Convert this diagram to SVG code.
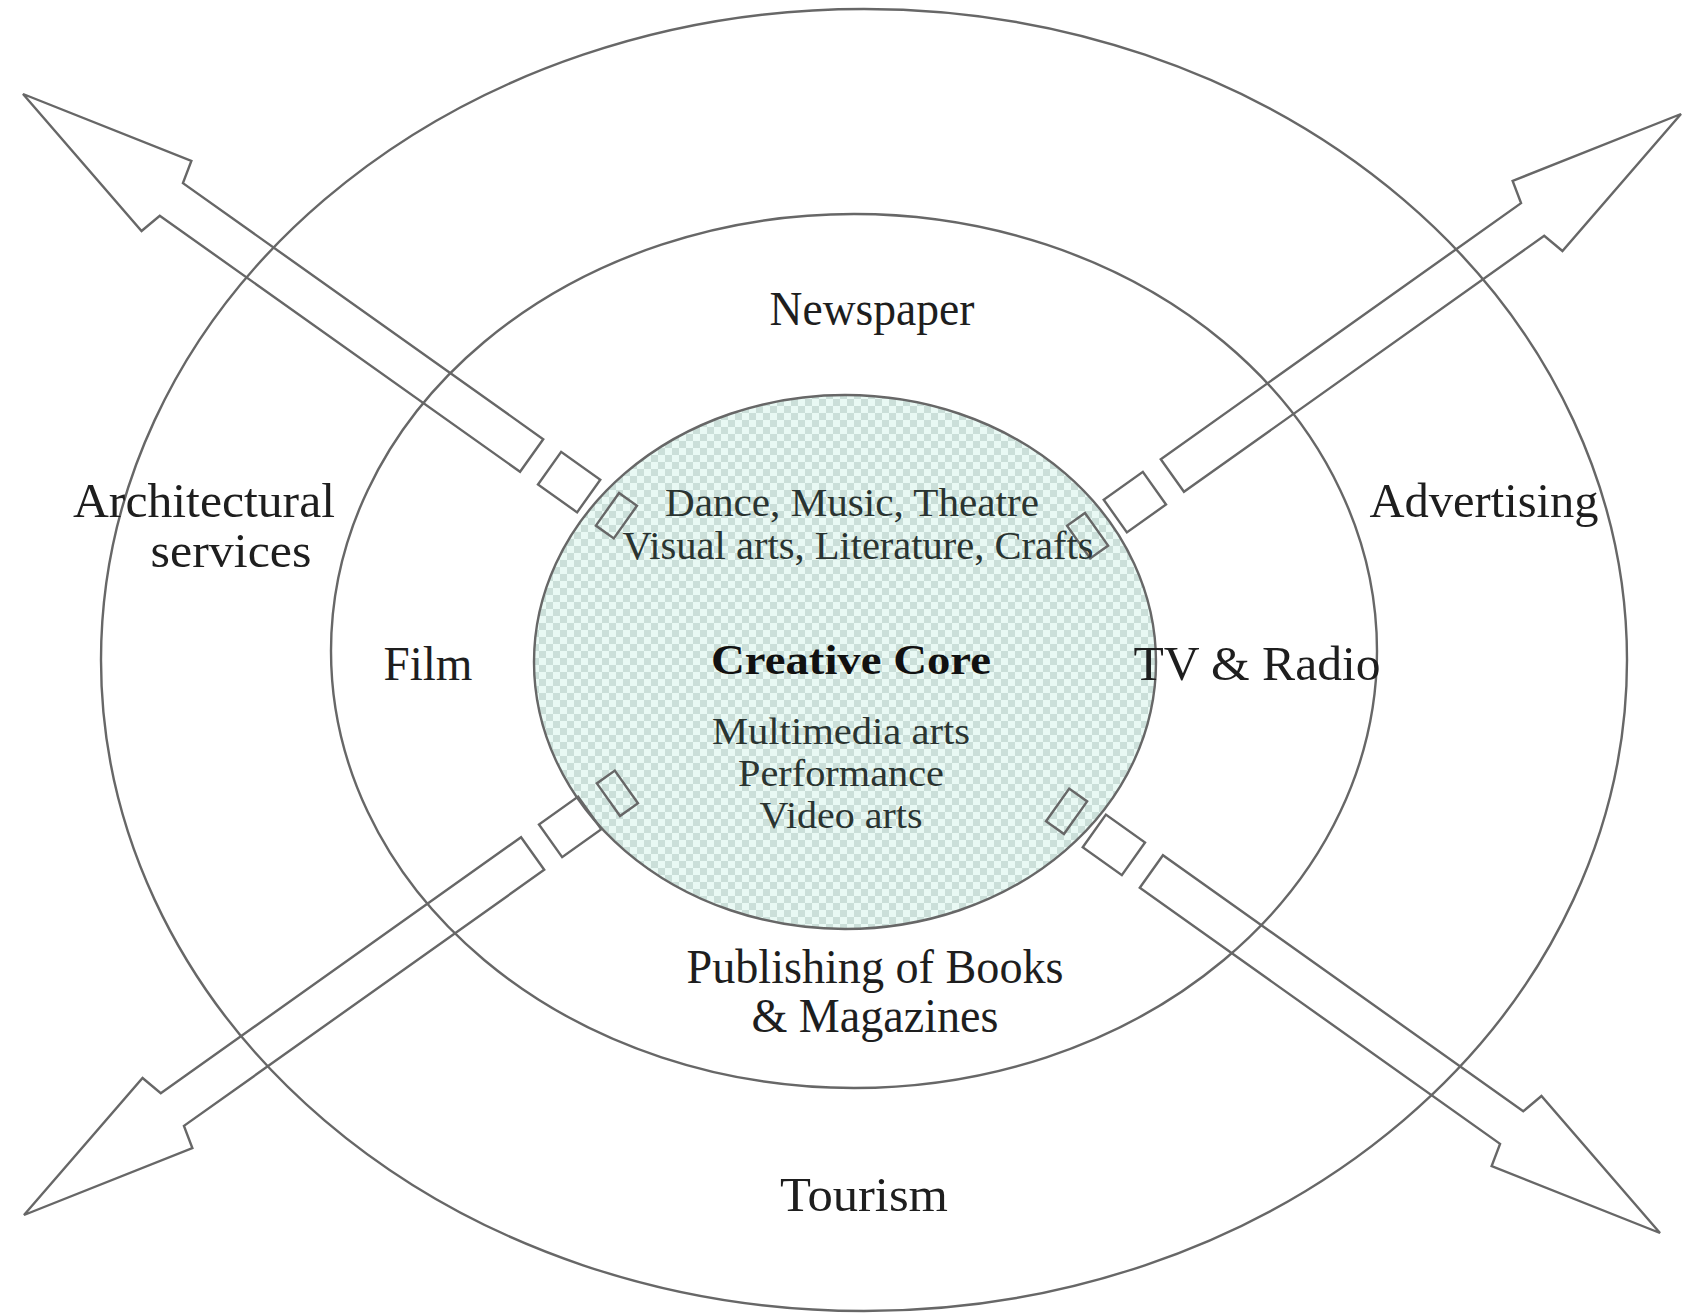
<svg xmlns="http://www.w3.org/2000/svg" width="1698" height="1313" viewBox="0 0 1698 1313">
  <style>
    .ring { fill: none; stroke: #676767; stroke-width: 2.4; }
    .arrow { fill: none; stroke: #676767; stroke-width: 2.4; stroke-linejoin: miter; }
    .lbl { font-family: "Liberation Serif", "Times New Roman", serif; fill: #1e1e1e; text-anchor: middle; }
    .outer { font-size: 48px; }
    .inner { font-size: 40px; fill: #2a3431; }
    .media { font-size: 37px; fill: #2a3431; }
    .core { font-size: 43px; font-weight: bold; fill: #111; }
  </style>
  <defs>
    <pattern id="chk" width="14" height="14" patternUnits="userSpaceOnUse">
      <rect width="14" height="14" fill="#e9f9f4"/>
      <rect width="7" height="7" fill="#cbdfd9"/>
      <rect x="7" y="7" width="7" height="7" fill="#cbdfd9"/>
    </pattern>
    <g id="arrowShape">
      <path d="M0,0 L176,-43 L182,-20 L624,-20 L624,20 L182,20 L176,43 Z"/>
      <rect x="646" y="-20" width="48" height="40"/>
      <rect x="717" y="-20" width="22" height="40"/>
    </g>
  </defs>

  <rect width="1698" height="1313" fill="#ffffff"/>

  <g id="outer-ring">
    <ellipse class="ring" cx="864" cy="660" rx="763" ry="651"/>
  </g>
  <g id="middle-ring">
    <ellipse class="ring" cx="854" cy="651" rx="523" ry="437"/>
  </g>
  <g id="creative-core">
    <ellipse cx="845" cy="662" rx="311" ry="267" fill="url(#chk)" stroke="#676767" stroke-width="2.4"/>
  </g>

  <g id="connectors" class="arrow">
    <use href="#arrowShape" transform="translate(23,94) rotate(35.4)"/>
    <use href="#arrowShape" transform="translate(1681,114) rotate(144.6)"/>
    <use href="#arrowShape" transform="translate(24,1215) rotate(-35.4)"/>
    <use href="#arrowShape" transform="translate(1660,1233) rotate(-144.6)"/>
  </g>

  <g id="label-newspaper"><text class="lbl outer" x="872" y="325" textLength="205" lengthAdjust="spacingAndGlyphs">Newspaper</text></g>
  <g id="label-architectural">
    <text class="lbl outer" x="204" y="517" textLength="262" lengthAdjust="spacingAndGlyphs">Architectural</text>
    <text class="lbl outer" x="231" y="567" textLength="161" lengthAdjust="spacingAndGlyphs">services</text>
  </g>
  <g id="label-advertising"><text class="lbl outer" x="1484" y="517" textLength="229" lengthAdjust="spacingAndGlyphs">Advertising</text></g>
  <g id="label-film"><text class="lbl outer" x="428" y="680" textLength="89" lengthAdjust="spacingAndGlyphs">Film</text></g>
  <g id="label-tvradio"><text class="lbl outer" x="1257" y="680" textLength="247" lengthAdjust="spacingAndGlyphs">TV &amp; Radio</text></g>
  <g id="label-publishing">
    <text class="lbl outer" x="875" y="983" textLength="377" lengthAdjust="spacingAndGlyphs">Publishing of Books</text>
    <text class="lbl outer" x="875" y="1032" textLength="247" lengthAdjust="spacingAndGlyphs">&amp; Magazines</text>
  </g>
  <g id="label-tourism"><text class="lbl outer" x="864" y="1211" textLength="168" lengthAdjust="spacingAndGlyphs">Tourism</text></g>
  <g id="label-core-arts">
    <text class="lbl inner" x="852" y="516" textLength="374" lengthAdjust="spacingAndGlyphs">Dance, Music, Theatre</text>
    <text class="lbl inner" x="858" y="559" textLength="471" lengthAdjust="spacingAndGlyphs">Visual arts, Literature, Crafts</text>
  </g>
  <g id="label-core"><text class="lbl core" x="851" y="674" textLength="280" lengthAdjust="spacingAndGlyphs">Creative Core</text></g>
  <g id="label-core-media">
    <text class="lbl media" x="841" y="744" textLength="258" lengthAdjust="spacingAndGlyphs">Multimedia arts</text>
    <text class="lbl media" x="841" y="786" textLength="206" lengthAdjust="spacingAndGlyphs">Performance</text>
    <text class="lbl media" x="841" y="828" textLength="163" lengthAdjust="spacingAndGlyphs">Video arts</text>
  </g>
</svg>
